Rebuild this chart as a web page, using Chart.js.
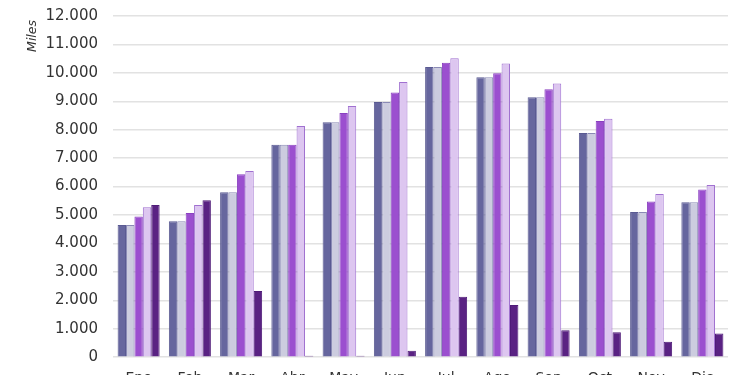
<!DOCTYPE html>
<html>
<head>
<meta charset="utf-8">
<script src="https://cdn.jsdelivr.net/npm/chart.js@4/dist/chart.umd.min.js"></script>
<style>
html,body{margin:0;padding:0;background:#fff;overflow:hidden;width:750px;height:375px;}
canvas{display:block;}
</style>
</head>
<body>
<canvas id="c" width="750" height="408" style="width:750px;height:408px;"></canvas>
<script>
const categories = ['Ene','Feb','Mar','Abr','May','Jun','Jul','Ago','Sep','Oct','Nov','Dic'];
const serie1 = [4650,4780,5800,7470,8260,8975,10210,9850,9140,7885,5105,5450];
const serie2 = [4650,4780,5800,7470,8260,8975,10210,9850,9140,7885,5105,5450];
const serie3 = [4950,5070,6435,7470,8590,9310,10355,9990,9425,8305,5480,5895];
const serie4 = [5270,5355,6550,8130,8835,9680,10510,10330,9625,8390,5740,6060];
const serie5 = [5355,5520,2330,50,50,225,2130,1835,950,880,540,835];
const yTicks = [0,1000,2000,3000,4000,5000,6000,7000,8000,9000,10000,11000,12000];

function fmt(v){ return String(v).replace(/\B(?=(\d{3})+(?!\d))/g,'.'); }

const ds = (label,data,bg,bd)=>({label,data,backgroundColor:bg,borderColor:bd,borderWidth:1,borderSkipped:'bottom'});

new Chart(document.getElementById('c'),{
  type:'bar',
  data:{
    labels:categories,
    datasets:[
      ds('Serie 1',serie1,'#66669e','#5a5a92'),
      ds('Serie 2',serie2,'#ccccdf','#8a8ab5'),
      ds('Serie 3',serie3,'#9b4fcf','#8a40c0'),
      ds('Serie 4',serie4,'#ddc6f0','#a070d0'),
      ds('Serie 5',serie5,'#5a2283','#4f1c78')
    ]
  },
  options:{
    responsive:false,
    animation:false,
    layout:{padding:{left:10,right:22,top:16,bottom:8}},
    plugins:{legend:{display:false},tooltip:{enabled:false}},
    datasets:{bar:{categoryPercentage:0.82,barPercentage:1.0}},
    scales:{
      x:{
        grid:{display:false,drawTicks:false},
        border:{display:false},
        ticks:{color:'#333',font:{family:'DejaVu Sans',size:14},padding:13}
      },
      y:{
        min:0,max:12000,
        afterBuildTicks:(axis)=>{axis.ticks=yTicks.map(v=>({value:v}));},
        afterFit:(axis)=>{axis.width=103;},
        grid:{color:'#e2e2e2',lineWidth:1.5,drawTicks:true,tickLength:12,tickColor:'rgba(0,0,0,0)'},
        border:{display:false},
        ticks:{color:'#333',font:{family:'DejaVu Sans',size:15},padding:3,callback:(v)=>fmt(v)},
        title:{display:true,text:'Miles ',align:'end',color:'#333',font:{family:'DejaVu Sans',size:12.5,style:'italic'},padding:{top:15,bottom:0}}
      }
    }
  }
});
</script>
</body>
</html>
